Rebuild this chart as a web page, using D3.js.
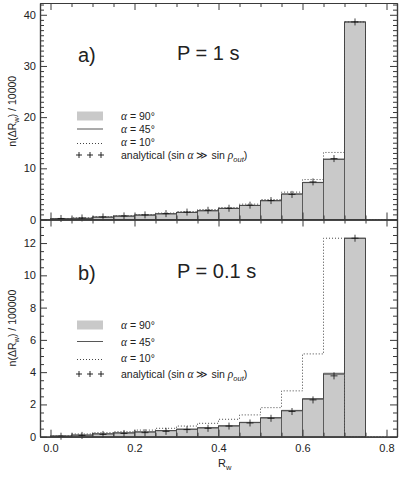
<!DOCTYPE html>
<html>
<head>
<meta charset="utf-8">
<script src="https://cdn.jsdelivr.net/npm/d3@7/dist/d3.min.js"></script>
<style>
  body { margin: 0; background: #fff; }
  svg { display: block; }
  text { font-family: "Liberation Sans", Arial, sans-serif; fill: #222; }
</style>
</head>
<body>
<div id="chart"></div>
<script>
// ---------- data ----------
const binEdges = [0.00, 0.05, 0.10, 0.15, 0.20, 0.25, 0.30, 0.35, 0.40, 0.45, 0.50, 0.55, 0.60, 0.65, 0.70, 0.75, 0.80];
const xTickLabels = ["0.0", "0.2", "0.4", "0.6", "0.8"];

// panel a) P = 1 s   (units of 10000)
const topAlpha90 = [0.13, 0.22, 0.45, 0.65, 0.85, 1.10, 1.37, 1.70, 2.15, 2.73, 3.65, 4.95, 7.20, 11.75, 38.6];
const topAlpha45 = [0.15, 0.25, 0.47, 0.67, 0.88, 1.12, 1.40, 1.72, 2.18, 2.76, 3.70, 5.00, 7.25, 11.8, 38.6];
const topAlpha10 = [0.20, 0.30, 0.55, 0.75, 0.95, 1.25, 1.55, 1.95, 2.35, 3.00, 3.90, 5.35, 7.80, 13.1, 38.6, 0];
const topAnalytical = [0.20, 0.30, 0.50, 0.70, 0.90, 1.15, 1.45, 1.80, 2.20, 2.80, 3.70, 4.90, 7.35, 11.9, 38.6];
const topYTicks = [0, 10, 20, 30, 40];

// panel b) P = 0.1 s (units of 100000)
const botAlpha90 = [0.04, 0.10, 0.17, 0.23, 0.29, 0.37, 0.46, 0.54, 0.66, 0.87, 1.16, 1.60, 2.32, 3.87, 12.3];
const botAlpha45 = [0.04, 0.10, 0.18, 0.24, 0.30, 0.38, 0.47, 0.56, 0.68, 0.89, 1.18, 1.63, 2.36, 3.93, 12.3];
const botAlpha10 = [0.05, 0.17, 0.25, 0.31, 0.41, 0.52, 0.66, 0.83, 1.08, 1.35, 1.80, 2.84, 5.13, 12.3, 0, 0];
const botAnalytical = [0.03, 0.08, 0.14, 0.20, 0.25, 0.33, 0.44, 0.52, 0.66, 0.85, 1.14, 1.56, 2.28, 3.77, 12.3];
const botYTicks = [0, 2, 4, 6, 8, 10, 12];

// ---------- layout ----------
const W = 399, H = 480;
const svg = d3.select("#chart").append("svg").attr("width", W).attr("height", H);

const x = d3.scaleLinear().domain([-0.025, 0.825]).range([40, 397]);

const panels = [
  { a90: topAlpha90, a45: topAlpha45, a10: topAlpha10, an: topAnalytical, yTicks: topYTicks,
    minorStep: 1, yMax: 42.3, y0: 219.5, y1: 3, tag: "a)", title: "P = 1 s", ylabel: "10000",
    legendRows: [116, 129, 142, 155], textTop: 60 },
  { a90: botAlpha90, a45: botAlpha45, a10: botAlpha10, an: botAnalytical, yTicks: botYTicks,
    minorStep: 0.5, yMax: 13.46, y0: 436.7, y1: 219.5, tag: "b)", title: "P = 0.1 s", ylabel: "100000",
    legendRows: [325, 341.5, 358, 374], textTop: 278 }
];

const stroke = "#3a3a3a";
const xMajor = [0, 0.2, 0.4, 0.6, 0.8];
const xMinor = d3.range(0, 0.8001, 0.05).filter(v => Math.abs(Math.round(v / 0.2) * 0.2 - v) > 1e-6);

panels.forEach((p, pi) => {
  const y = d3.scaleLinear().domain([0, p.yMax]).range([p.y0, p.y1]);
  const g = svg.append("g");

  // gray bars (alpha = 90)
  g.selectAll("rect.bar").data(p.a90).join("rect")
    .attr("class", "bar")
    .attr("x", (d, i) => x(binEdges[i]))
    .attr("width", (d, i) => x(binEdges[i + 1]) - x(binEdges[i]))
    .attr("y", d => y(d))
    .attr("height", d => y(0) - y(d))
    .attr("fill", "#c9c9c9")
    .attr("stroke", "#555")
    .attr("stroke-width", 0.9);

  const stepLine = d3.line().x(d => x(d[0])).y(d => y(d[1])).curve(d3.curveStepAfter);
  const stepPts = vals => {
    const n = vals.length;
    const pts = [[binEdges[0], 0]];
    vals.forEach((v, i) => pts.push([binEdges[i], v]));
    pts.push([binEdges[n], vals[n - 1]]);
    pts.push([binEdges[n], 0]);
    return pts;
  };

  // alpha = 45 (solid)
  g.append("path").attr("d", stepLine(stepPts(p.a45)))
    .attr("fill", "none").attr("stroke", "#444").attr("stroke-width", 0.9);

  // alpha = 10 (dotted)
  g.append("path").attr("d", stepLine(stepPts(p.a10)))
    .attr("fill", "none").attr("stroke", "#444").attr("stroke-width", 1)
    .attr("stroke-dasharray", "1,2");

  // analytical crosses
  const cs = g.selectAll("g.cross").data(p.an).join("g").attr("class", "cross")
    .attr("transform", (d, i) => `translate(${x((binEdges[i] + binEdges[i + 1]) / 2)},${y(d)})`);
  cs.append("line").attr("x1", -3.5).attr("x2", 3.5).attr("y1", 0).attr("y2", 0).attr("stroke", "#111").attr("stroke-width", 0.8);
  cs.append("line").attr("x1", 0).attr("x2", 0).attr("y1", -3.5).attr("y2", 3.5).attr("stroke", "#111").attr("stroke-width", 0.8);

  // ---- axes ----
  const yMinor = d3.range(0, p.yMax + 1e-6, p.minorStep).filter(v => !p.yTicks.includes(v));
  const axStyle = sel => {
    sel.selectAll("path.domain").attr("stroke", stroke).attr("stroke-width", 1.2);
    sel.selectAll(".tick line").attr("stroke", stroke).attr("stroke-width", 1);
    sel.selectAll(".tick text").attr("font-size", 11).attr("fill", "#222")
      .attr("font-family", "Liberation Sans, Arial, sans-serif");
  };
  // left
  g.append("g").attr("transform", `translate(${x.range()[0]},0)`)
    .call(d3.axisLeft(y).tickValues(p.yTicks).tickFormat(d3.format("d")).tickSizeInner(-7).tickSizeOuter(0).tickPadding(4))
    .call(axStyle);
  g.append("g").attr("transform", `translate(${x.range()[0]},0)`)
    .call(d3.axisLeft(y).tickValues(yMinor).tickFormat("").tickSizeInner(-4).tickSizeOuter(0))
    .call(axStyle);
  // right
  g.append("g").attr("transform", `translate(${x.range()[1]},0)`)
    .call(d3.axisRight(y).tickValues(p.yTicks).tickFormat("").tickSizeInner(-7).tickSizeOuter(0))
    .call(axStyle);
  g.append("g").attr("transform", `translate(${x.range()[1]},0)`)
    .call(d3.axisRight(y).tickValues(yMinor).tickFormat("").tickSizeInner(-4).tickSizeOuter(0))
    .call(axStyle);
  // top
  g.append("g").attr("transform", `translate(0,${p.y1})`)
    .call(d3.axisTop(x).tickValues(xMajor).tickFormat("").tickSizeInner(-7).tickSizeOuter(0))
    .call(axStyle);
  g.append("g").attr("transform", `translate(0,${p.y1})`)
    .call(d3.axisTop(x).tickValues(xMinor).tickFormat("").tickSizeInner(-4).tickSizeOuter(0))
    .call(axStyle);
  // bottom
  g.append("g").attr("transform", `translate(0,${p.y0})`)
    .call(d3.axisBottom(x).tickValues(xMajor)
      .tickFormat(pi === 1 ? ((d, i) => xTickLabels[i]) : "")
      .tickSizeInner(-7).tickSizeOuter(0).tickPadding(8))
    .call(axStyle);
  g.append("g").attr("transform", `translate(0,${p.y0})`)
    .call(d3.axisBottom(x).tickValues(xMinor).tickFormat("").tickSizeInner(-4).tickSizeOuter(0))
    .call(axStyle);

  // ---- titles ----
  g.append("text").attr("x", 78).attr("y", p.textTop + 2).attr("font-size", 20).text(p.tag);
  g.append("text").attr("x", 177).attr("y", p.textTop).attr("font-size", 20).text(p.title);

  // y label
  const yl = g.append("text").attr("transform", `translate(16,${(p.y0 + p.y1) / 2}) rotate(-90)`)
    .attr("text-anchor", "middle").attr("font-size", 10.5);
  yl.append("tspan").text("n(ΔR");
  yl.append("tspan").attr("font-size", 7.5).attr("dy", 2.5).text("w");
  yl.append("tspan").attr("dy", -2.5).text(") / " + p.ylabel);

  // ---- legend ----
  const L = g.append("g");
  const [r1, r2, r3, r4] = p.legendRows;
  const lx0 = 77, lx1 = 103, tx = 121;
  L.append("rect").attr("x", lx0).attr("y", r1 - 4.5).attr("width", lx1 - lx0).attr("height", 9).attr("fill", "#c9c9c9");
  L.append("line").attr("x1", lx0).attr("x2", lx1).attr("y1", r2).attr("y2", r2).attr("stroke", "#444").attr("stroke-width", 0.9);
  L.append("line").attr("x1", lx0).attr("x2", lx1).attr("y1", r3 + 1.5).attr("y2", r3 + 1.5).attr("stroke", "#444").attr("stroke-width", 1).attr("stroke-dasharray", "1,2");
  [79, 90, 101].forEach(cx => {
    L.append("line").attr("x1", cx - 3).attr("x2", cx + 3).attr("y1", r4).attr("y2", r4).attr("stroke", "#111").attr("stroke-width", 0.9);
    L.append("line").attr("x1", cx).attr("x2", cx).attr("y1", r4 - 3).attr("y2", r4 + 3).attr("stroke", "#111").attr("stroke-width", 0.9);
  });
  const alphaText = (yy, deg) => {
    const t = L.append("text").attr("x", tx).attr("y", yy + 4).attr("font-size", 10.5);
    t.append("tspan").attr("font-family", "Liberation Serif, serif").attr("font-style", "italic").attr("font-size", 11.5).text("α");
    t.append("tspan").text(" = " + deg + "°");
  };
  alphaText(r1, 90);
  alphaText(r2, 45);
  alphaText(r3, 10);
  const an = L.append("text").attr("x", tx).attr("y", r4 + 4).attr("font-size", 10.5);
  an.append("tspan").text("analytical (sin ");
  an.append("tspan").attr("font-family", "Liberation Serif, serif").attr("font-style", "italic").attr("font-size", 11.5).text("α");
  an.append("tspan").text(" ≫ sin ");
  an.append("tspan").attr("font-family", "Liberation Serif, serif").attr("font-style", "italic").attr("font-size", 11.5).text("ρ");
  an.append("tspan").attr("font-size", 7.5).attr("font-style", "italic").attr("dy", 2.5).text("out");
  an.append("tspan").attr("dy", -2.5).text(")");
});

// x label
const xl = svg.append("text").attr("x", 218).attr("y", 467).attr("font-size", 11);
xl.append("tspan").text("R");
xl.append("tspan").attr("font-size", 7.5).attr("dy", 2.5).text("w");
</script>
</body>
</html>
